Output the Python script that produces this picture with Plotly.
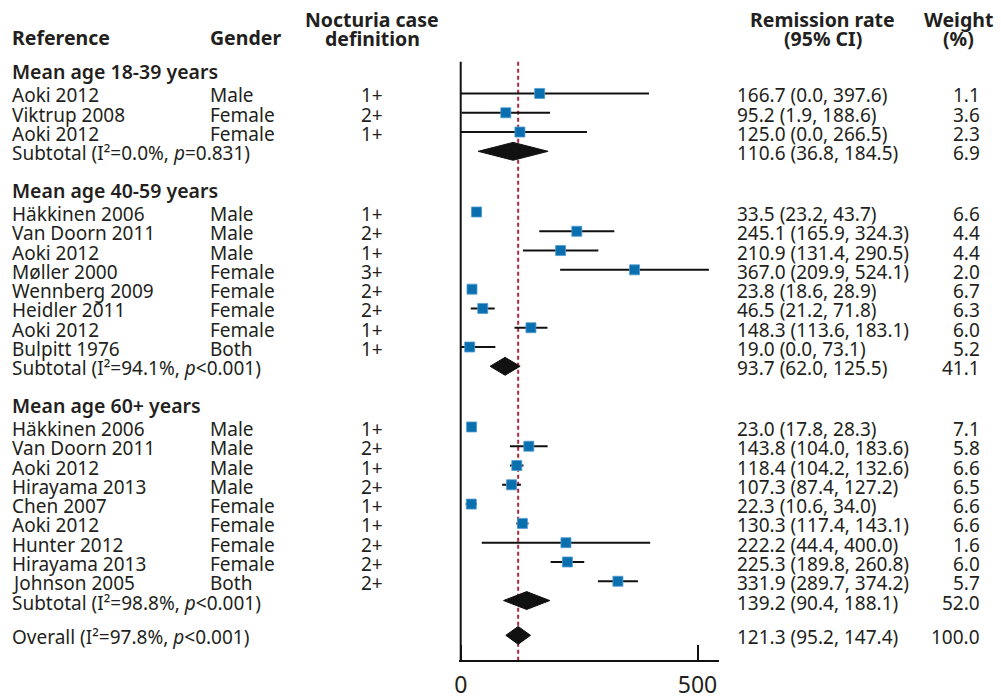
import plotly.graph_objects as go

# ---------------- data ----------------
group_titles = ["Mean age 18-39 years", "Mean age 40-59 years", "Mean age 60+ years"]

g1_refs = ["Aoki 2012", "Viktrup 2008", "Aoki 2012"]
g1_gender = ["Male", "Female", "Female"]
g1_def = ["1+", "2+", "1+"]
g1_est = [166.7, 95.2, 125.0]
g1_lo = [0.0, 1.9, 0.0]
g1_hi = [397.6, 188.6, 266.5]
g1_wt = [1.1, 3.6, 2.3]

g2_refs = ["Häkkinen 2006", "Van Doorn 2011", "Aoki 2012", "Møller 2000",
           "Wennberg 2009", "Heidler 2011", "Aoki 2012", "Bulpitt 1976"]
g2_gender = ["Male", "Male", "Male", "Female", "Female", "Female", "Female", "Both"]
g2_def = ["1+", "2+", "1+", "3+", "2+", "2+", "1+", "1+"]
g2_est = [33.5, 245.1, 210.9, 367.0, 23.8, 46.5, 148.3, 19.0]
g2_lo = [23.2, 165.9, 131.4, 209.9, 18.6, 21.2, 113.6, 0.0]
g2_hi = [43.7, 324.3, 290.5, 524.1, 28.9, 71.8, 183.1, 73.1]
g2_wt = [6.6, 4.4, 4.4, 2.0, 6.7, 6.3, 6.0, 5.2]

g3_refs = ["Häkkinen 2006", "Van Doorn 2011", "Aoki 2012", "Hirayama 2013", "Chen 2007",
           "Aoki 2012", "Hunter 2012", "Hirayama 2013", "Johnson 2005"]
g3_gender = ["Male", "Male", "Male", "Male", "Female", "Female", "Female", "Female", "Both"]
g3_def = ["1+", "2+", "1+", "2+", "1+", "1+", "2+", "2+", "2+"]
g3_est = [23.0, 143.8, 118.4, 107.3, 22.3, 130.3, 222.2, 225.3, 331.9]
g3_lo = [17.8, 104.0, 104.2, 87.4, 10.6, 117.4, 44.4, 189.8, 289.7]
g3_hi = [28.3, 183.6, 132.6, 127.2, 34.0, 143.1, 400.0, 260.8, 374.2]
g3_wt = [7.1, 5.8, 6.6, 6.5, 6.6, 6.6, 1.6, 6.0, 5.7]

sub_i2 = ["0.0", "94.1", "98.8"]
sub_p = ["=0.831", "<0.001", "<0.001"]
sub_est = [110.6, 93.7, 139.2]
sub_lo = [36.8, 62.0, 90.4]
sub_hi = [184.5, 125.5, 188.1]
sub_wt = [6.9, 41.1, 52.0]

overall_i2 = "97.8"
overall_p = "<0.001"
overall_est = 121.3
overall_lo = 95.2
overall_hi = 147.4
overall_wt = 100.0

x_ticks = [0, 500]
x_tick_labels = ["0", "500"]

# ---------------- layout helpers ----------------
W, H = 1001, 700
PX_PER_UNIT = 238 / 500.0
X0_PX = 458.0
XMIN, XMAX = -4.0, 546.0
dom_l = (X0_PX + XMIN * PX_PER_UNIT) / W
dom_r = (X0_PX + XMAX * PX_PER_UNIT) / W

FONT = "Noto Sans"
TXT = "#231f20"
FS = 19
BLUE = "#0a6fae"
TEXT_DY = 2.0

groups = [
    (g1_refs, g1_gender, g1_def, g1_est, g1_lo, g1_hi, g1_wt),
    (g2_refs, g2_gender, g2_def, g2_est, g2_lo, g2_hi, g2_wt),
    (g3_refs, g3_gender, g3_def, g3_est, g3_lo, g3_hi, g3_wt),
]

STEP = 19.4
y = 70.0
header_y, study_rows, subtotal_y = [], [], []
for gi, g in enumerate(groups):
    header_y.append(y)
    y += 24.0
    rows = []
    for _ in g[0]:
        rows.append(y)
        y += STEP
    study_rows.append(rows)
    subtotal_y.append(y)
    y += 37.0
overall_y = subtotal_y[-1] + 35.0
top_y = 62.0
axis_y = 665.0

annotations = []


def add_text(x_px, yv, text, anchor="left", size=FS, weight=None, color=TXT):
    f = dict(family=FONT, size=size, color=color)
    if weight:
        f["weight"] = weight
    annotations.append(dict(x=x_px / W, xref="paper", y=yv + TEXT_DY, yref="y", text=text,
                            xanchor=anchor, yanchor="middle", showarrow=False,
                            borderpad=0, borderwidth=0, font=f))


COL_REF, COL_GEN, COL_DEF, COL_CI, COL_WT = 7, 206, 369, 736, 980
COL_CI_HDR, COL_WT_HDR = 822, 958

# Column headers
HS = 19.5
add_text(COL_REF, 36, "Reference", size=HS, weight="bold")
add_text(COL_GEN, 36, "Gender", size=HS, weight="bold")
add_text(COL_DEF, 18, "Nocturia case", anchor="center", size=HS, weight="bold")
add_text(COL_DEF, 37, "definition", anchor="center", size=HS, weight="bold")
add_text(COL_CI_HDR, 18, "Remission rate", anchor="center", size=HS, weight="bold")
add_text(COL_CI_HDR, 37, "(95% CI)", anchor="center", size=HS, weight="bold")
add_text(COL_WT_HDR, 18, "Weight", anchor="center", size=HS, weight="bold")
add_text(COL_WT_HDR, 37, "(%)", anchor="center", size=HS, weight="bold")


def ci_text(e, l, h):
    return f"{e:.1f} ({l:.1f}, {h:.1f})"


ci_x, ci_y, sq_x, sq_y = [], [], [], []
fig = go.Figure()

for gi, g in enumerate(groups):
    refs, gen, dfn, est, lo, hi, wt = g
    add_text(COL_REF, header_y[gi], group_titles[gi], size=19.5, weight=600)
    for r, yy in enumerate(study_rows[gi]):
        add_text(COL_REF, yy, refs[r])
        add_text(COL_GEN, yy, gen[r])
        add_text(COL_DEF, yy, dfn[r], anchor="center")
        add_text(COL_CI, yy, ci_text(est[r], lo[r], hi[r]))
        add_text(COL_WT, yy, f"{wt[r]:.1f}", anchor="right")
        ci_x += [lo[r], hi[r], None]
        ci_y += [yy, yy, None]
        sq_x.append(est[r])
        sq_y.append(yy)
    sy = subtotal_y[gi]
    add_text(COL_REF, sy, f"Subtotal (I²={sub_i2[gi]}%, <i>p</i>{sub_p[gi]})")
    add_text(COL_CI, sy, ci_text(sub_est[gi], sub_lo[gi], sub_hi[gi]))
    add_text(COL_WT, sy, f"{sub_wt[gi]:.1f}", anchor="right")

add_text(COL_REF, overall_y, f"Overall (I²={overall_i2}%, <i>p</i>{overall_p})")
add_text(COL_CI, overall_y, ci_text(overall_est, overall_lo, overall_hi))
add_text(COL_WT, overall_y, f"{overall_wt:.1f}", anchor="right")

# CI lines
fig.add_trace(go.Scatter(x=ci_x, y=ci_y, mode="lines",
                         line=dict(color="#111111", width=2), hoverinfo="skip",
                         showlegend=False))
# squares
fig.add_trace(go.Scatter(x=sq_x, y=sq_y, mode="markers",
                         marker=dict(symbol="square", size=10, color=BLUE,
                                     line=dict(color="#4f9bd0", width=0.8)),
                         showlegend=False))

# diamonds
DH = 9.0
dia_e = sub_est + [overall_est]
dia_l = sub_lo + [overall_lo]
dia_h = sub_hi + [overall_hi]
dia_y = subtotal_y + [overall_y]
for e, l, h, yy in zip(dia_e, dia_l, dia_h, dia_y):
    fig.add_trace(go.Scatter(x=[l, e, h, e, l], y=[yy, yy - DH, yy, yy + DH, yy],
                             mode="lines", fill="toself", fillcolor="#111111",
                             line=dict(color="#111111", width=1), showlegend=False,
                             hoverinfo="skip"))

shapes = [
    # reference (overall) dashed line
    dict(type="line", xref="x", yref="y", x0=overall_est, x1=overall_est,
         y0=top_y, y1=axis_y, line=dict(color="#b3283c", width=2, dash="4px,3px"),
         layer="below"),
    # vertical line at zero
    dict(type="line", xref="x", yref="y", x0=0, x1=0, y0=top_y, y1=axis_y,
         line=dict(color="#111111", width=2)),
]

fig.update_layout(
    width=W, height=H,
    margin=dict(l=0, r=0, t=0, b=0),
    paper_bgcolor="white", plot_bgcolor="white",
    showlegend=False,
    annotations=annotations,
    shapes=shapes,
    xaxis=dict(domain=[dom_l, dom_r], range=[XMIN, XMAX], anchor="free",
               position=(H - axis_y) / H, showline=True, linecolor="#111111",
               linewidth=2, ticks="inside", ticklen=15, tickwidth=2,
               tickcolor="#111111", tickvals=x_ticks, ticktext=x_tick_labels,
               ticklabelstandoff=3,
               tickfont=dict(family=FONT, size=23, color=TXT),
               showgrid=False, zeroline=False, fixedrange=True),
    yaxis=dict(domain=[0, 1], range=[H, 0], visible=False, showgrid=False,
               zeroline=False, fixedrange=True),
)

fig.write_html("out.html")
